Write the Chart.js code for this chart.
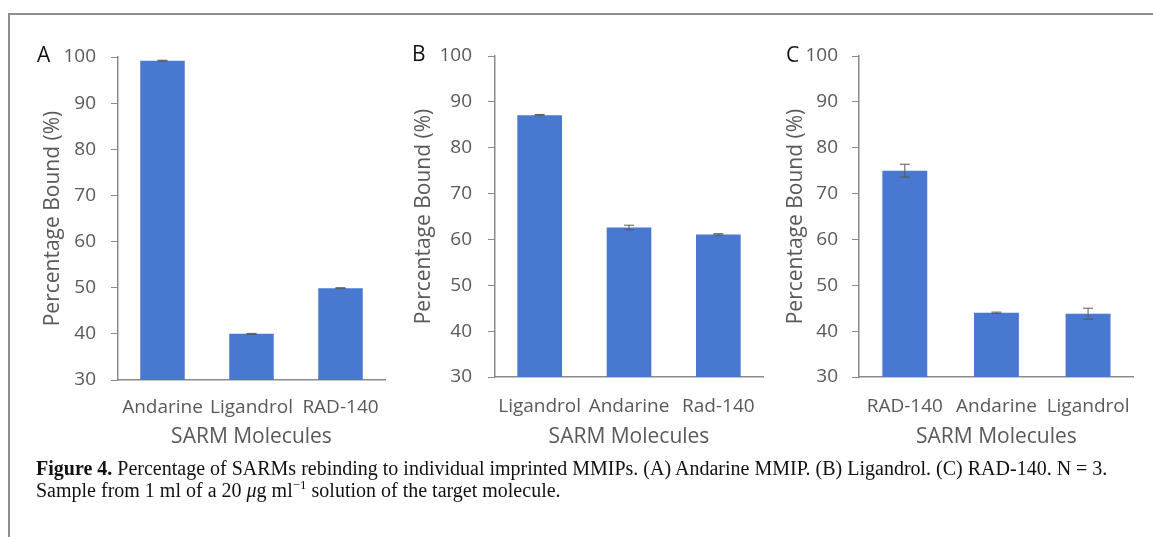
<!DOCTYPE html>
<html>
<head>
<meta charset="utf-8">
<script src="https://cdn.jsdelivr.net/npm/chart.js@4"></script>
<style>
  body { margin: 0; background: #fff; width: 1153px; height: 537px; overflow: hidden; position: relative; }
  .frame { position: absolute; left: 8px; top: 13px; width: 1145px; height: 530px; border-top: 2px solid #8c8c8c; border-left: 2px solid #8c8c8c; }
  .panel { position: absolute; top: 0; }
  .letter { position: absolute; font-family: 'Open Sans', sans-serif; font-size: 21px; color: #111; line-height: 1; }
  .caption { position: absolute; left: 36px; top: 457px; font-family: 'Liberation Serif', serif; font-size: 20px; line-height: 22px; color: #111; white-space: nowrap; }
  .caption sup { font-size: 13px; line-height: 0; }
</style>
</head>
<body>
<div class="frame"></div>
<div class="panel" style="left:0px"><canvas id="chartA" width="400" height="460"></canvas></div>
<div class="panel" style="left:380px"><canvas id="chartB" width="398" height="460"></canvas></div>
<div class="panel" style="left:760px"><canvas id="chartC" width="390" height="460"></canvas></div>
<div class="letter" style="left:37px; top:44px">A</div>
<div class="letter" style="left:412px; top:43px">B</div>
<div class="letter" style="left:786px; top:44px">C</div>
<div class="caption"><b>Figure 4.</b> Percentage of SARMs rebinding to individual imprinted MMIPs. (A) Andarine MMIP. (B) Ligandrol. (C) RAD-140. N = 3.<br>Sample from 1 ml of a 20 <i>μ</i>g ml<sup>−1</sup> solution of the target molecule.</div>
<script>
// panel A: Andarine MMIP
const labelsA = ['Andarine', 'Ligandrol', 'RAD-140'];
const valuesA = [99.2, 40.0, 49.9];
const errorsA = [0.1, 0.1, 0.1];

// panel B: Ligandrol MMIP
const labelsB = ['Ligandrol', 'Andarine', 'Rad-140'];
const valuesB = [87.1, 62.6, 61.1];
const errorsB = [0.15, 0.5, 0.15];

// panel C: RAD-140 MMIP
const labelsC = ['RAD-140', 'Andarine', 'Ligandrol'];
const valuesC = [75.0, 44.0, 43.8];
const errorsC = [1.4, 0.15, 1.2];

const yMin = 30;
const yMax = 100;
const yStep = 10;

const barColor = '#4878d0';
const axisColor = '#8a8a8a';
const textColor = '#595959';
const font = "'Open Sans', sans-serif";

// draws the +/- error whiskers on top of the bars
const errorBars = {
    id: 'errorBars',
    afterDatasetsDraw(chart) {
        const ctx = chart.ctx;
        const yScale = chart.scales.y;
        const errs = chart.options.plugins.errorBars.errors;
        const values = chart.data.datasets[0].data;
        chart.getDatasetMeta(0).data.forEach(function(bar, i) {
            const yTop = yScale.getPixelForValue(values[i] + errs[i]);
            const yBot = yScale.getPixelForValue(values[i] - errs[i]);
            ctx.save();
            ctx.strokeStyle = '#5a5a5a';
            ctx.lineWidth = 1;
            ctx.beginPath();
            ctx.moveTo(bar.x, yTop);
            ctx.lineTo(bar.x, yBot);
            ctx.moveTo(bar.x - 5, yTop);
            ctx.lineTo(bar.x + 5, yTop);
            ctx.moveTo(bar.x - 5, yBot);
            ctx.lineTo(bar.x + 5, yBot);
            ctx.stroke();
            ctx.restore();
        });
    }
};

function makePanel(id, labels, values, errors, cfg) {
    const ctx = document.getElementById(id).getContext('2d');
    return new Chart(ctx, {
        type: 'bar',
        data: {
            labels: labels,
            datasets: [{
                data: values,
                backgroundColor: barColor,
                borderWidth: 0,
                barPercentage: cfg.barPct,
                categoryPercentage: 1
            }]
        },
        options: {
            responsive: false,
            animation: false,
            devicePixelRatio: 1,
            layout: { padding: { left: 0, right: cfg.right, top: cfg.top, bottom: 0 } },
            plugins: {
                legend: { display: false },
                tooltip: { enabled: false },
                errorBars: { errors: errors }
            },
            scales: {
                x: {
                    grid: { display: false, drawTicks: false },
                    border: { display: true, color: axisColor, width: 1.5 },
                    ticks: { color: textColor, font: { family: font, size: 19 }, padding: cfg.xPad, maxRotation: 0, autoSkip: false },
                    title: { display: true, text: 'SARM Molecules', color: textColor, font: { family: font, size: 21 }, padding: { top: 0, bottom: 10 } },
                    afterFit: function(s) { s.height = cfg.xh; }
                },
                y: {
                    min: yMin,
                    max: yMax,
                    grid: { display: true, drawOnChartArea: false, drawTicks: true, tickLength: 7, color: axisColor },
                    border: { display: true, color: axisColor, width: 1.5 },
                    ticks: { stepSize: yStep, color: textColor, font: { family: font, size: 19 }, padding: cfg.yPad },
                    title: { display: true, text: 'Percentage Bound (%)', color: textColor, font: { family: font, size: 21 }, padding: { top: cfg.titlePad, bottom: 0 } },
                    afterFit: function(s) { s.width = cfg.yw; }
                }
            }
        },
        plugins: [errorBars]
    });
}

makePanel('chartA', labelsA, valuesA, errorsA, { yw: 118, xh: 80, right: 15, top: 57, xPad: 16, yPad: 15, titlePad: 40, barPct: 0.5 });
makePanel('chartB', labelsB, valuesB, errorsB, { yw: 115, xh: 83, right: 15, top: 56, xPad: 18, yPad: 16, titlePad: 31, barPct: 0.5 });
makePanel('chartC', labelsC, valuesC, errorsC, { yw: 99, xh: 83, right: 15, top: 56, xPad: 18, yPad: 14, titlePad: 23, barPct: 0.49 });
</script>
</body>
</html>
